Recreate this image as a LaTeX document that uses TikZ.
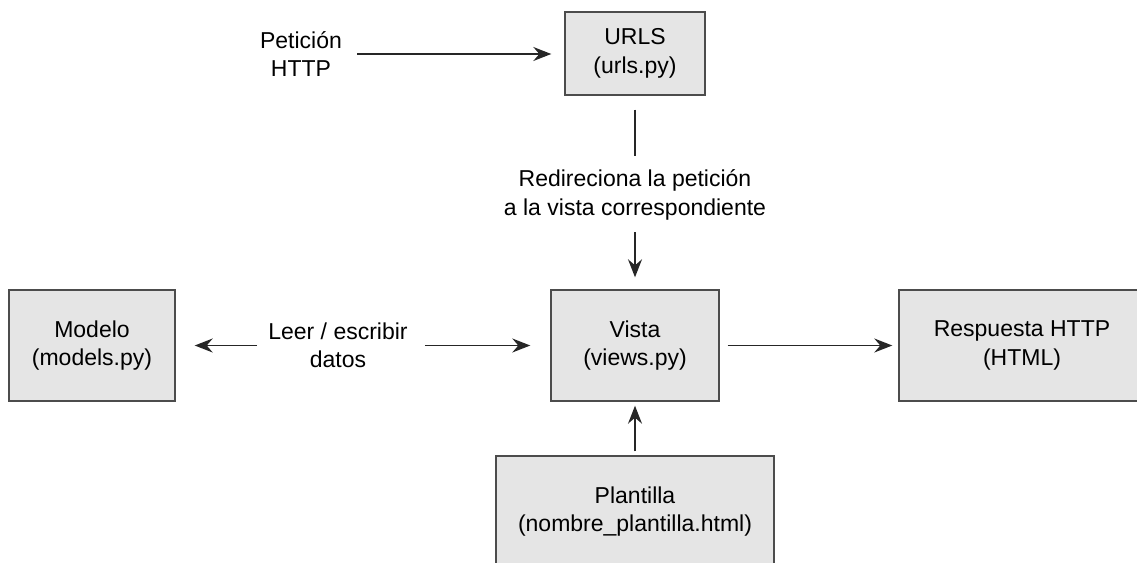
\documentclass[tikz,border=0pt]{standalone}
\usepackage{fontspec}
\setmainfont{Liberation Sans}
\usetikzlibrary{arrows.meta}

\begin{document}
\begin{tikzpicture}[x=1pt, y=-1pt,
  font=\fontsize{23}{28.5}\selectfont,
  box/.style={draw=black!70, fill=black!10, line width=1.4pt, align=center, inner sep=0pt},
  txt/.style={align=center, inner sep=0pt},
  flow/.style={-{Stealth[length=18pt, width=14pt, inset=6pt]}, line width=1.6pt, draw=black!85}]

\useasboundingbox (0,0) rectangle (1137,562);
\clip (0,0) rectangle (1137,562);

% Cajas
\node [box, minimum width=140pt, minimum height=83pt]  (urls)      at (635,53.5)   {URLS\\(urls.py)};
\node [box, minimum width=168pt, minimum height=111pt] (vista)     at (635,345.5)  {Vista\\(views.py)};
\node [box, minimum width=166pt, minimum height=111pt] (modelo)    at (92,345.5)   {Modelo\\(models.py)};
\node [box, minimum width=246pt, minimum height=111pt] (respuesta) at (1022,345.5) {Respuesta HTTP\\(HTML)};
\node [box, minimum width=278pt, minimum height=111pt] (plantilla) at (635,511.5)  {Plantilla\\(nombre\_plantilla.html)};

% Textos sueltos
\node [txt] (peticion) at (301,54)  {Petición\\HTTP};
\node [txt] (redir)    at (635,195) {Redireciona la petición\\a la vista correspondiente};
\node [txt] (leer)     at (338,345.5) {Leer / escribir\\datos};

% Flechas
\draw [flow, shorten <=15pt, shorten >=13pt] (peticion.east) -- (peticion.east -| urls.west);
\draw [line width=1.6pt, draw=black!85, shorten <=14pt, shorten >=14pt] (urls.south) -- (redir.north);
\draw [flow, shorten <=12pt, shorten >=12pt] (redir.south) -- (vista.north);
\draw [flow, shorten <=11pt, shorten >=19pt] (leer.west) -- (leer.west -| modelo.east);
\draw [flow, shorten <=17pt, shorten >=20pt] (leer.east) -- (leer.east -| vista.west);
\draw [flow, shorten <=8pt, shorten >=6pt] (vista) -- (respuesta);
\draw [flow, shorten <=4pt, shorten >=4pt] (plantilla) -- (vista);

\end{tikzpicture}
\end{document}
